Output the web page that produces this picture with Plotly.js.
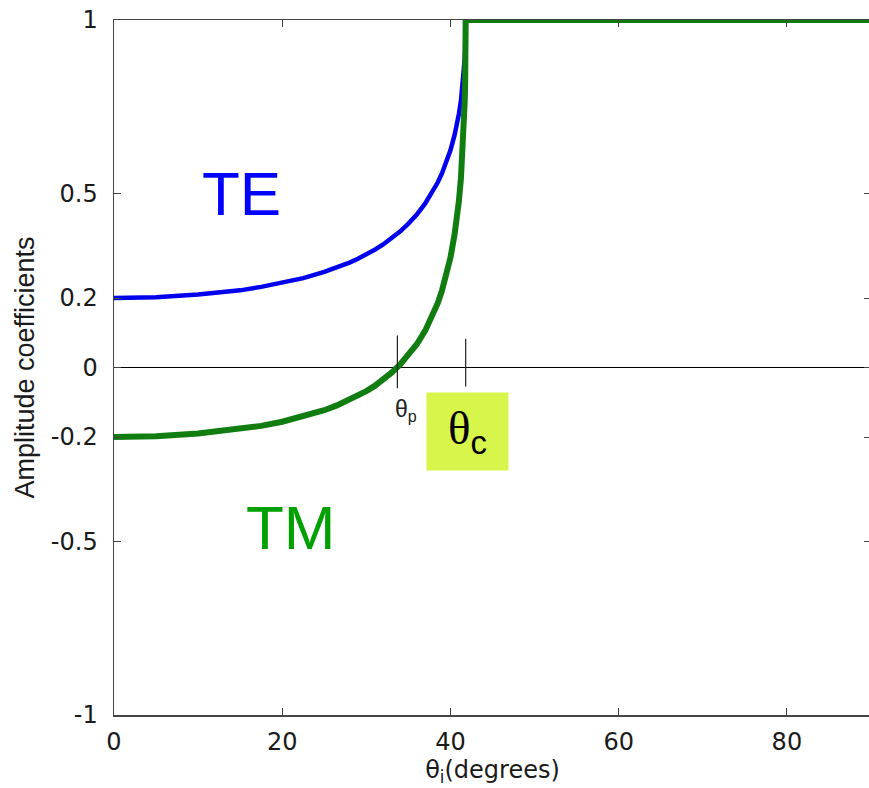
<!DOCTYPE html>
<html>
<head>
<meta charset="utf-8">
<script src="https://cdn.plot.ly/plotly-3.0.1.min.js"></script>
<style>
html, body { margin: 0; padding: 0; overflow: hidden; background: #fff; }
#chart { width: 871px; height: 788px; }
</style>
</head>
<body>
<div id="chart"></div>
<script>
// Incidence angle (degrees)
const angles = [0, 5, 10, 15, 17.5, 20, 22.5, 25, 26.5, 28, 29, 30, 31, 32, 33, 34, 35, 36, 37, 38, 38.5, 39, 39.5, 40, 40.5, 40.75, 41, 41.25, 41.5, 41.6, 41.7, 41.75, 41.78, 41.8, 41.81, 90];
// TE amplitude coefficient
const teValues = [0.200, 0.202, 0.210, 0.222, 0.232, 0.243, 0.257, 0.275, 0.287, 0.302, 0.313, 0.325, 0.339, 0.354, 0.371, 0.391, 0.414, 0.440, 0.472, 0.510, 0.533, 0.559, 0.589, 0.625, 0.670, 0.697, 0.729, 0.768, 0.822, 0.851, 0.889, 0.917, 0.941, 0.966, 1, 1];
// TM amplitude coefficient
const tmValues = [-0.200, -0.198, -0.190, -0.177, -0.168, -0.156, -0.141, -0.123, -0.109, -0.093, -0.081, -0.068, -0.053, -0.035, -0.015, 0.008, 0.035, 0.067, 0.106, 0.156, 0.186, 0.222, 0.264, 0.316, 0.384, 0.426, 0.478, 0.545, 0.639, 0.693, 0.767, 0.822, 0.872, 0.924, 1, 1];

const xTicks = [0, 20, 40, 60, 80];
const yTicks = [-1, -0.5, -0.2, 0, 0.2, 0.5, 1];
const yTickText = ['-1', '-0.5', '-0.2', '0', '0.2', '0.5', '1'];

// Special angles: Brewster (θp) and critical (θc)
const brewsterAngle = 33.69;
const criticalAngle = 41.81;

const axisFont = { family: 'DejaVu Sans, Arial, sans-serif', size: 24, color: '#1a1a1a' };

const traces = [
  { x: angles, y: teValues, type: 'scatter', mode: 'lines', name: 'TE',
    line: { color: '#0000ee', width: 4.5 }, hoverinfo: 'x+y' },
  { x: angles, y: tmValues, type: 'scatter', mode: 'lines', name: 'TM',
    line: { color: '#117d11', width: 6 }, hoverinfo: 'x+y' }
];

const layout = {
  width: 871, height: 788,
  margin: { l: 114, r: 0, t: 20, b: 73 },
  paper_bgcolor: '#ffffff', plot_bgcolor: '#ffffff',
  showlegend: false,
  xaxis: {
    range: [0, 90], tickvals: xTicks, ticks: 'inside', ticklen: 7, tickwidth: 1, tickcolor: '#444',
    showline: true, linecolor: '#444', linewidth: 1.5, mirror: 'ticks',
    showgrid: false, zeroline: false, tickfont: axisFont, ticklabelstandoff: 5,
    title: { text: 'θ<sub>i</sub>(degrees)', font: axisFont, standoff: 5 }
  },
  yaxis: {
    range: [-1, 1], tickvals: yTicks, ticktext: yTickText, ticks: 'inside', ticklen: 7, tickwidth: 1, tickcolor: '#444',
    showline: true, linecolor: '#444', linewidth: 1.5, mirror: 'ticks',
    showgrid: false, zeroline: true, zerolinecolor: '#000', zerolinewidth: 1.2,
    tickfont: axisFont, ticklabelstandoff: 10,
    title: { text: 'Amplitude coefficients', font: { family: 'Liberation Sans, Arial, sans-serif', size: 27, color: '#1a1a1a' }, standoff: 8 }
  },
  shapes: [
    { type: 'line', xref: 'x', yref: 'y', x0: brewsterAngle, x1: brewsterAngle, y0: 0.092, y1: -0.06,
      line: { color: '#222', width: 1.2 } },
    { type: 'line', xref: 'x', yref: 'y', x0: criticalAngle, x1: criticalAngle, y0: 0.083, y1: -0.055,
      line: { color: '#222', width: 1.2 } }
  ],
  annotations: [
    { x: 15.2, y: 0.5, xref: 'x', yref: 'y', text: 'TE', showarrow: false,
      font: { family: 'Liberation Sans, Arial, sans-serif', size: 62, color: '#0000ff' } },
    { x: 21.0, y: -0.46, xref: 'x', yref: 'y', text: 'TM', showarrow: false,
      font: { family: 'Liberation Sans, Arial, sans-serif', size: 62, color: '#00a000' } },
    { x: 33.2, y: -0.075, xref: 'x', yref: 'y', xanchor: 'left', yanchor: 'top', text: 'θ<sub>p</sub>', showarrow: false,
      font: { family: 'Liberation Sans, Arial, sans-serif', size: 23, color: '#222' } },
    { x: 42.03, y: -0.183, xref: 'x', yref: 'y', xanchor: 'center', yanchor: 'middle',
      text: '<span style="font-family:Liberation Serif, Times New Roman, serif">θ</span><sub>c</sub>', showarrow: false,
      bgcolor: '#d8f54c', width: 79, height: 75, borderpad: 1,
      font: { family: 'Liberation Sans, Arial, sans-serif', size: 47, color: '#000' } }
  ]
};

Plotly.newPlot('chart', traces, layout, { displayModeBar: false, staticPlot: true });
</script>
</body>
</html>
